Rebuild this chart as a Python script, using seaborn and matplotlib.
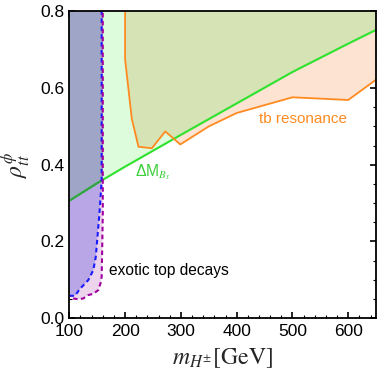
import matplotlib
matplotlib.use("Agg")
import matplotlib.pyplot as plt
import seaborn as sns
import pandas as pd
from matplotlib.ticker import MultipleLocator

# data (m_H+- in GeV, rho_tt^phi)
m_dm = [100, 150, 200, 300, 400, 500, 600, 650]
rho_dm = [0.306, 0.352, 0.395, 0.478, 0.560, 0.642, 0.716, 0.752]

m_tb = [200, 200, 212, 224, 248, 272, 299, 350, 400, 500, 600, 650]
rho_tb = [0.8, 0.675, 0.52, 0.447, 0.443, 0.487, 0.453, 0.50, 0.535, 0.576, 0.569, 0.622]

m_top_in = [100, 110, 119, 134, 143, 147.5, 150, 154, 156.5, 158, 158]
rho_top_in = [0.058, 0.058, 0.076, 0.099, 0.125, 0.160, 0.204, 0.273, 0.326, 0.360, 0.8]

m_top_out = [100, 107, 116, 125, 134, 143, 152, 156, 158, 159, 160, 160]
rho_top_out = [0.056, 0.051, 0.049, 0.051, 0.060, 0.063, 0.073, 0.091, 0.108, 0.186, 0.273, 0.8]

X_MIN, X_MAX, Y_MAX = 100, 650, 0.8

sns.set_theme(style="ticks")
plt.rcParams['font.family'] = ['Liberation Sans', 'DejaVu Sans']
plt.rcParams['mathtext.fontset'] = 'stix'

fig = plt.figure(figsize=(3.83, 3.82), dpi=100)
ax = fig.add_axes([0.181, 0.1675, 0.801, 0.8025])

# Delta M_Bs allowed-above region
ax.fill_between(m_dm, rho_dm, Y_MAX, color='#dcfcdc', lw=0, zorder=1)

# tb resonance region
tb_poly = ax.fill(m_tb + [X_MAX], rho_tb + [Y_MAX], color='#fde3d2', lw=0, zorder=2)[0]
olive = ax.fill_between(m_dm, rho_dm, Y_MAX, color='#d6e4b5', lw=0, zorder=3)
olive.set_clip_path(tb_poly)

# exotic top decays
out_poly = ax.fill(m_top_out + [X_MIN], rho_top_out + [Y_MAX], color='#ecd4ec', lw=0, zorder=4)[0]
ax.fill(m_top_in + [X_MIN], rho_top_in + [Y_MAX], color='#b8a6e6', lw=0, zorder=5)
slate = ax.fill_between(m_dm, rho_dm, Y_MAX, color='#9ea5c6', lw=0, zorder=6)
slate.set_clip_path(out_poly)

df_dm = pd.DataFrame({'m': m_dm, 'rho': rho_dm})
sns.lineplot(data=df_dm, x='m', y='rho', color='#2ee22e', lw=1.5, ax=ax, zorder=7)
dark = ax.plot(m_dm, rho_dm, color='#35a048', lw=1.5, zorder=8)[0]
dark.set_clip_path(out_poly)

df_tb = pd.DataFrame({'m': m_tb, 'rho': rho_tb})
sns.lineplot(data=df_tb, x='m', y='rho', sort=False, estimator=None,
             color='#ff8a20', lw=1.3, ax=ax, zorder=9)

df_in = pd.DataFrame({'m': m_top_in, 'rho': rho_top_in})
sns.lineplot(data=df_in, x='m', y='rho', sort=False, estimator=None,
             color='#1a1aff', lw=1.5, ax=ax, zorder=10,
             linestyle=(0, (2.2, 1.6)))
df_out = pd.DataFrame({'m': m_top_out, 'rho': rho_top_out})
sns.lineplot(data=df_out, x='m', y='rho', sort=False, estimator=None,
             color='#a000a0', lw=1.5, ax=ax, zorder=11,
             linestyle=(1.8, (2.2, 1.6)))

ax.text(218, 0.381, r'ΔM$_{B_s}$', color='#3ccf3c', fontsize=11.3, va='center', zorder=12)
ax.text(440, 0.52, 'tb resonance', color='#ff8a20', fontsize=11, va='center', zorder=12)
ax.text(171, 0.125, 'exotic top decays', color='black', fontsize=11.2, va='center', zorder=12)

ax.set_xlim(X_MIN, X_MAX)
ax.set_ylim(0, Y_MAX)
ax.xaxis.set_major_locator(MultipleLocator(100))
ax.xaxis.set_minor_locator(MultipleLocator(20))
ax.yaxis.set_major_locator(MultipleLocator(0.2))
ax.yaxis.set_minor_locator(MultipleLocator(0.05))
ax.tick_params(which='both', direction='in', top=True, right=True, color='black')
ax.tick_params(which='major', length=4, width=1.2, labelsize=12.5, labelcolor='black')
ax.tick_params(axis='x', which='major', pad=4.5)
ax.tick_params(axis='y', which='major', pad=3.5)
ax.tick_params(which='minor', length=2.5, width=0.8)
for s in ax.spines.values():
    s.set_linewidth(1.3)
    s.set_color('black')
    s.set_zorder(20)

ax.set_xlabel(r'$m_{H^{\pm}}[\mathrm{GeV}]$', fontsize=17, labelpad=5)
ax.set_ylabel(r'$\rho^{\phi}_{tt}$', fontsize=17, labelpad=6)

fig.savefig('out.png', dpi=100)
